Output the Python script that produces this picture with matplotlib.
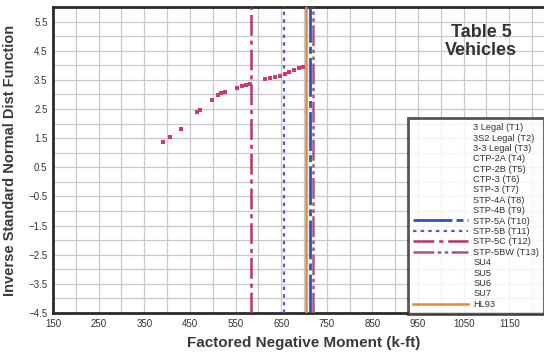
import matplotlib
matplotlib.use("Agg")
import matplotlib.pyplot as plt
from matplotlib.lines import Line2D
from matplotlib import font_manager

plt.rcParams["lines.scale_dashes"] = False
fams = {f.name for f in font_manager.fontManager.ttflist}
plt.rcParams["font.family"] = ["Liberation Sans Narrow" if "Liberation Sans Narrow" in fams else "Liberation Sans", "DejaVu Sans"]

# Simulated negative moments vs. inverse standard normal (tail points)
moment_pts = [390, 406, 430, 466, 473, 498, 511, 518, 527, 554, 564, 573, 582,
              615, 626, 637, 647, 658, 668, 679, 690, 697]
z_pts = [1.37, 1.54, 1.81, 2.40, 2.47, 2.82, 2.97, 3.04, 3.09, 3.22, 3.29, 3.32, 3.37,
         3.53, 3.57, 3.60, 3.64, 3.70, 3.76, 3.83, 3.91, 3.94]

# Factored moments of the permit / design vehicles (k-ft)
vehicle_labels = ["3 Legal (T1)", "3S2 Legal (T2)", "3-3 Legal (T3)", "CTP-2A (T4)",
                  "CTP-2B (T5)", "CTP-3 (T6)", "STP-3 (T7)", "STP-4A (T8)", "STP-4B (T9)",
                  "STP-5A (T10)", "STP-5B (T11)", "STP-5C (T12)", "STP-5BW (T13)",
                  "SU4", "SU5", "SU6", "SU7", "HL93"]
vehicle_moments = {"STP-5A (T10)": 714, "STP-5B (T11)": 656, "STP-5C (T12)": 584,
                   "STP-5BW (T13)": 720, "HL93": 704}

x_ticks = [150, 250, 350, 450, 550, 650, 750, 850, 950, 1050, 1150]
y_ticks = [-4.5, -3.5, -2.5, -1.5, -0.5, 0.5, 1.5, 2.5, 3.5, 4.5, 5.5]

styles = {
    "STP-5A (T10)": dict(color="#2f4fbf", lw=2.0, ls=(0, (28, 3, 5, 3))),
    "STP-5B (T11)": dict(color="#4a5cd0", lw=1.6, ls=(0, (2.5, 3))),
    "STP-5C (T12)": dict(color="#b8336c", lw=1.8, ls=(0, (15, 3.5, 3, 3.5))),
    "STP-5BW (T13)": dict(color="#a3557c", lw=1.8, ls=(0, (15, 2.5, 2.5, 2.5, 2.5, 2.5))),
    "HL93": dict(color="#e8882e", lw=1.8, ls="-"),
}

fig = plt.figure(figsize=(5.44, 3.52), dpi=100)
W, H = 544, 352
ax = fig.add_axes([53 / W, (H - 313) / H, (W - 53) / W + 0.02, (313 - 7) / H])

ax.set_xlim(150, 1204)
ax.set_ylim(-4.5, 6.0)

ax.set_xticks(x_ticks)
ax.set_yticks(y_ticks)
ax.set_xticks(range(150, 1251, 50), minor=True)
ax.set_yticks([v / 2 for v in range(-9, 13)], minor=True)
ax.grid(True, which="both", color="#c8c8d0", lw=0.9)
ax.set_axisbelow(True)
ax.tick_params(which="both", length=0, labelsize=7, colors="#333333", pad=4)

for s in ax.spines.values():
    s.set_color("#2a2a2a")
    s.set_linewidth(2.0)
ax.spines["right"].set_visible(False)

for name, x in vehicle_moments.items():
    st = styles[name]
    ax.axvline(x, color=st["color"], lw=st["lw"], linestyle=st["ls"], zorder=3)

ax.plot(moment_pts, z_pts, linestyle="none", marker="s", markersize=3.2,
        color="#cc3a72", markeredgewidth=0, zorder=4)

bold_fam = ["Liberation Sans", "DejaVu Sans"]
ax.set_xlabel("Factored Negative Moment (k-ft)", fontsize=11, fontweight="bold",
              color="#3a3a3a", labelpad=5, family=bold_fam)
ax.set_ylabel("Inverse Standard Normal Dist Function", fontsize=10.5, fontweight="bold",
              color="#3a3a3a", labelpad=8, family=bold_fam)

fig.text(481 / W, 1 - 41.5 / H, "Table 5\nVehicles", ha="center", va="center",
         fontsize=13, fontweight="bold", color="#333333", linespacing=1.05,
         family=bold_fam, zorder=5)

handles = []
for name in vehicle_labels:
    if name in styles:
        st = styles[name]
        handles.append(Line2D([], [], color=st["color"], lw=st["lw"], linestyle=st["ls"]))
    else:
        handles.append(Line2D([], [], linestyle="none"))

leg = fig.legend(handles, vehicle_labels, loc="upper left",
                 bbox_to_anchor=(408 / W, (H - 118) / H), fontsize=6.7,
                 handlelength=5.9, handletextpad=0.55, labelspacing=0.15,
                 borderpad=0.55, borderaxespad=0, frameon=True, fancybox=False)
leg.get_frame().set_edgecolor("#2a2a2a")
leg.get_frame().set_linewidth(2.0)
leg.set_zorder(6)
for t in leg.get_texts():
    t.set_color("#333333")

fig.savefig("out.png", dpi=100)
